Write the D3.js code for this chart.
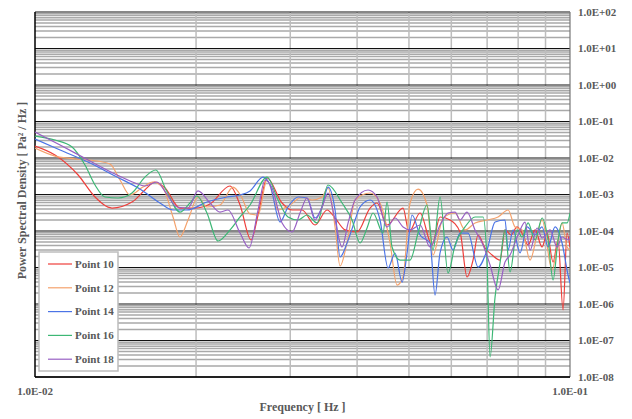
<!DOCTYPE html>
<html>
<head>
<meta charset="utf-8">
<script src="https://cdn.jsdelivr.net/npm/d3@7"></script>
<style>
  body { margin: 0; background: #fff; }
  text { font-family: "Liberation Serif", "Times New Roman", serif; font-weight: bold; fill: #595959; }
</style>
</head>
<body>
<div id="chart"></div>
<script>
// series data: [frequency Hz, PSD Pa^2/Hz]
var point10 = [[0.0100,2.13e-2],[0.0109,1.21e-2],[0.01204,3.42e-3],[0.01295,8.53e-4],[0.01393,4.26e-4],[0.01518,6.2e-4],[0.01605,1.33e-3],[0.01676,2.2e-3],[0.0175,1.51e-3],[0.01866,4.26e-4],[0.01991,4.26e-4],[0.02124,5.49e-4],[0.02315,1.71e-3],[0.02417,5.15e-4],[0.02534,5.66e-5],[0.02612,2.74e-4],[0.02715,2.83e-3],[0.02896,5.85e-4],[0.03023,3.76e-4],[0.03156,3.76e-4],[0.03338,1.46e-4],[0.03515,3.76e-4],[0.03638,2.27e-4],[0.03798,1.07e-4],[0.03999,9.4e-5],[0.04229,4.26e-4],[0.04359,5.85e-4],[0.0455,1.46e-4],[0.04875,4.26e-4],[0.0500,9.4e-5],[0.05245,3.11e-4],[0.05522,4.13e-5],[0.05716,2.42e-4],[0.05967,2.0e-4],[0.0623,9.4e-5],[0.0642,5.49e-6],[0.06588,1.6e-5],[0.06732,7.76e-5],[0.06938,3.42e-5],[0.0715,2.2e-5],[0.074,1.6e-5],[0.07561,1.07e-4],[0.0776,7.76e-5],[0.07962,1.29e-4],[0.0817,7.76e-5],[0.08349,4.13e-5],[0.08604,1.07e-4],[0.08867,3.64e-5],[0.0906,8.8e-5],[0.09297,1.41e-5],[0.09499,5.66e-5],[0.09706,6.84e-7],[0.09873,8.8e-5],[0.1,3.64e-5]];

var point12 = [[0.0100,1.88e-2],[0.0109,1.13e-2],[0.01188,9.4e-3],[0.01306,8.26e-3],[0.01381,6.84e-3],[0.01442,2.5e-3],[0.01505,9.68e-4],[0.01591,1.6e-3],[0.01661,2.2e-3],[0.01735,1.51e-3],[0.01811,2.42e-4],[0.01866,6.84e-5],[0.01932,2.0e-4],[0.02017,8.53e-4],[0.02096,4.54e-4],[0.02217,5.15e-4],[0.02345,1.6e-3],[0.02427,9.09e-4],[0.02523,2.92e-4],[0.02612,2.74e-4],[0.02715,2.5e-3],[0.02847,3.76e-4],[0.02997,5.15e-4],[0.03156,8.53e-4],[0.03295,7.06e-4],[0.0344,8.53e-4],[0.0353,1.51e-3],[0.03638,1.29e-4],[0.03717,1.1e-5],[0.03848,6.84e-5],[0.03965,7.06e-4],[0.04229,1.1e-3],[0.04415,5.85e-4],[0.04609,4.69e-5],[0.0475,3.31e-6],[0.04875,5.49e-6],[0.05024,5.85e-4],[0.052,1.41e-3],[0.05405,5.15e-4],[0.05546,2.2e-5],[0.0579,2.27e-4],[0.06097,3.11e-4],[0.06365,1.07e-4],[0.06645,1.66e-4],[0.06998,2.0e-4],[0.07337,2.42e-4],[0.0766,3.76e-4],[0.07894,1.29e-4],[0.08136,1.07e-4],[0.08421,1.6e-5],[0.08678,7.76e-5],[0.08867,2.0e-4],[0.09257,8.53e-6],[0.09459,3.64e-5],[0.09664,1.66e-4],[0.09873,3.64e-5],[0.1,3.0e-5]];

var point14 = [[0.0100,3.31e-2],[0.01114,1.66e-2],[0.01267,7.3e-3],[0.01411,3.21e-3],[0.01571,1.41e-3],[0.01712,5.85e-4],[0.01811,3.76e-4],[0.01923,3.76e-4],[0.02096,6.23e-4],[0.02285,8.53e-4],[0.02417,9.68e-4],[0.02523,1.25e-3],[0.02668,3.0e-3],[0.0275,1.82e-3],[0.02871,1.76e-4],[0.02971,4.54e-4],[0.03102,8.53e-4],[0.03225,8.01e-4],[0.03338,2.27e-4],[0.0344,4.54e-4],[0.0353,1.6e-3],[0.03638,3.76e-4],[0.03717,1.94e-5],[0.03831,4.69e-5],[0.03965,2.0e-4],[0.04051,4.54e-4],[0.04229,7.06e-4],[0.04415,2.0e-4],[0.0457,9.68e-6],[0.0471,2.5e-5],[0.04854,4.0e-6],[0.0496,2.5e-5],[0.05068,2.74e-4],[0.05245,7.76e-5],[0.05475,4.69e-5],[0.05594,1.76e-6],[0.05716,2.5e-5],[0.0589,6.84e-5],[0.06045,3.0e-5],[0.0623,8.8e-5],[0.06448,8.8e-5],[0.06732,1.03e-5],[0.06998,3.0e-5],[0.07243,1.76e-4],[0.07561,2.0e-4],[0.0766,3.0e-5],[0.07827,1.07e-4],[0.08066,2.5e-5],[0.08313,1.29e-4],[0.08604,7.76e-5],[0.08867,1.29e-4],[0.09099,3.64e-5],[0.09377,1.29e-4],[0.09664,4.69e-5],[0.09915,6.23e-6],[0.1,3.76e-6]];

var point16 = [[0.0100,4.0e-2],[0.0109,3.11e-2],[0.01173,2.0e-2],[0.0124,6.43e-3],[0.01295,1.82e-3],[0.01352,8.53e-4],[0.0143,8.01e-4],[0.01518,1.1e-3],[0.01605,3.0e-3],[0.01683,4.69e-3],[0.01758,1.33e-3],[0.01866,3.31e-4],[0.01948,5.85e-4],[0.02008,9.09e-4],[0.02096,3.11e-4],[0.02198,5.32e-5],[0.02315,1.07e-4],[0.02417,2.42e-4],[0.02523,5.15e-4],[0.02715,3.0e-3],[0.02847,7.06e-4],[0.02971,2.42e-4],[0.03102,2.0e-4],[0.03225,2.74e-4],[0.03367,1.66e-4],[0.0353,1.82e-3],[0.03749,5.85e-4],[0.03914,2.0e-4],[0.04051,4.69e-5],[0.04175,1.21e-4],[0.04284,3.11e-4],[0.04472,8.8e-5],[0.0455,6.23e-4],[0.04649,3.64e-5],[0.04812,1.6e-5],[0.05024,1.6e-5],[0.052,8.8e-5],[0.05405,5.15e-4],[0.05546,3.0e-5],[0.05716,8.53e-4],[0.05916,7.06e-6],[0.06097,4.13e-5],[0.06365,1.29e-4],[0.06645,2.42e-4],[0.06879,2.42e-4],[0.06998,1.33e-5],[0.07089,3.53e-8],[0.07243,1.56e-6],[0.074,1.33e-5],[0.07561,1.07e-4],[0.07726,7.52e-6],[0.07962,1.07e-4],[0.08136,6.84e-5],[0.08349,1.66e-4],[0.08604,5.66e-5],[0.08867,2.27e-4],[0.09099,5.66e-5],[0.09297,4.54e-6],[0.09499,5.66e-5],[0.09664,1.66e-4],[0.09873,1.66e-4],[0.1,3.11e-4]];

var point18 = [[0.0100,5.15e-2],[0.01114,2.27e-2],[0.01267,8.26e-3],[0.01411,3.64e-3],[0.01538,2.07e-3],[0.01605,1.71e-3],[0.0169,2.2e-3],[0.01758,1.1e-3],[0.01842,4.54e-4],[0.01932,4.26e-4],[0.02017,1.25e-3],[0.02124,5.85e-4],[0.02217,3.31e-4],[0.02295,3.76e-4],[0.02417,8.8e-5],[0.02512,3.42e-5],[0.02612,3.76e-4],[0.02691,2.5e-3],[0.02774,1.51e-3],[0.02896,1.66e-4],[0.03023,9.4e-5],[0.03129,3.11e-4],[0.03225,8.01e-4],[0.03338,2.0e-4],[0.0344,4.54e-4],[0.0353,1.1e-3],[0.03638,2.0e-4],[0.03749,3.64e-5],[0.03848,1.66e-4],[0.03965,7.06e-4],[0.04193,1.33e-3],[0.04359,8.53e-4],[0.0455,1.29e-4],[0.0471,2.27e-4],[0.04875,1.29e-4],[0.05024,1.07e-4],[0.05245,1.46e-4],[0.05475,3.64e-5],[0.05716,1.46e-4],[0.05916,3.11e-4],[0.06097,3.31e-4],[0.0623,2.0e-4],[0.0642,3.31e-4],[0.06645,1.07e-4],[0.06879,4.13e-5],[0.07089,1.17e-5],[0.07337,2.42e-6],[0.07561,1.41e-5],[0.07726,2.2e-5],[0.07997,7.76e-5],[0.08241,1.76e-4],[0.08421,3.0e-5],[0.08678,1.21e-4],[0.08867,6.43e-5],[0.09177,1.07e-4],[0.09459,3.64e-5],[0.09664,6.84e-5],[0.09915,5.66e-5],[0.1,6.84e-5]];

var seriesNames = ["Point 10", "Point 12", "Point 14", "Point 16", "Point 18"];
var seriesColors = ["#ee3f3b", "#f4a26c", "#4b74e6", "#3db775", "#9860c4"];
var yTickLabels = ["1.0E+02","1.0E+01","1.0E+00","1.0E-01","1.0E-02","1.0E-03","1.0E-04","1.0E-05","1.0E-06","1.0E-07","1.0E-08"];
var xTickLabels = ["1.0E-02","1.0E-01"];

var allSeries = [point10, point12, point14, point16, point18];

// set the dimensions and margins of the graph
var margin = {top: 12, right: 62, bottom: 42, left: 35},
    width = 632 - margin.left - margin.right,
    height = 419 - margin.top - margin.bottom;

var svg = d3.select("#chart")
  .append("svg")
    .attr("width", 632)
    .attr("height", 419)
  .append("g")
    .attr("transform", "translate(" + margin.left + "," + margin.top + ")");

var x = d3.scaleLog().domain([0.01, 0.1]).range([0, width]);
var y = d3.scaleLog().domain([1e-8, 1e2]).range([height, 0]);

// minor horizontal grid
var minorY = [];
for (var e = -8; e < 2; e++) {
  for (var k = 2; k <= 9; k++) minorY.push(k * Math.pow(10, e));
}
svg.append("g")
  .selectAll("line")
  .data(minorY)
  .enter()
  .append("line")
    .attr("x1", 0).attr("x2", width)
    .attr("y1", function(d) { return y(d); })
    .attr("y2", function(d) { return y(d); })
    .style("stroke", "#a9a9a9")
    .style("stroke-width", 1.5);

// minor vertical grid
var minorX = d3.range(2, 10).map(function(k) { return k * 0.01; });
svg.append("g")
  .selectAll("line")
  .data(minorX)
  .enter()
  .append("line")
    .attr("x1", function(d) { return x(d); })
    .attr("x2", function(d) { return x(d); })
    .attr("y1", 0).attr("y2", height)
    .style("stroke", "#bdbdbd")
    .style("stroke-width", 1.5);

// major horizontal lines
var majorY = d3.range(-8, 3).map(function(e) { return Math.pow(10, e); });
svg.append("g")
  .selectAll("line")
  .data(majorY)
  .enter()
  .append("line")
    .attr("x1", 0).attr("x2", width)
    .attr("y1", function(d) { return y(d); })
    .attr("y2", function(d) { return y(d); })
    .style("stroke", "#111")
    .style("stroke-width", 1.2);

// frame
svg.append("line").attr("x1", width).attr("x2", width).attr("y1", 0).attr("y2", height)
  .style("stroke", "#777").style("stroke-width", 1.2);
svg.append("line").attr("x1", 0).attr("x2", 0).attr("y1", 0).attr("y2", height)
  .style("stroke", "#000").style("stroke-width", 1.5);
svg.append("line").attr("x1", 0).attr("x2", width).attr("y1", height).attr("y2", height)
  .style("stroke", "#000").style("stroke-width", 1.5);

// lines
svg.append("clipPath").attr("id", "clip")
  .append("rect").attr("width", width).attr("height", height);

var line = d3.line()
  .x(function(d) { return x(d[0]); })
  .y(function(d) { return y(d[1]); })
  .curve(d3.curveMonotoneX);

svg.append("g")
  .attr("clip-path", "url(#clip)")
  .selectAll("path")
  .data(allSeries)
  .enter()
  .append("path")
    .attr("d", line)
    .style("fill", "none")
    .style("stroke", function(d, i) { return seriesColors[i]; })
    .style("stroke-width", 1.2);

// Y tick labels on the right
svg.append("g")
  .selectAll("text")
  .data(majorY.slice().reverse())
  .enter()
  .append("text")
    .attr("x", width + 8)
    .attr("y", function(d) { return y(d); })
    .attr("dy", "0.35em")
    .style("font-size", "11px")
    .text(function(d, i) { return yTickLabels[i]; });

// X tick labels
svg.append("g")
  .selectAll("text")
  .data([0.01, 0.1])
  .enter()
  .append("text")
    .attr("x", function(d) { return x(d); })
    .attr("y", height + 18)
    .attr("text-anchor", "middle")
    .style("font-size", "11px")
    .text(function(d, i) { return xTickLabels[i]; });

// axis titles
svg.append("text")
  .attr("x", width / 2)
  .attr("y", height + 34)
  .attr("text-anchor", "middle")
  .style("font-size", "12px")
  .text("Frequency [ Hz ]");

svg.append("text")
  .attr("transform", "translate(-9," + (height / 2 - 4) + ") rotate(-90)")
  .attr("text-anchor", "middle")
  .style("font-size", "12px")
  .text("Power Spectral Density [ Pa² / Hz ]");

// legend
var legend = svg.append("g").attr("transform", "translate(4,240)");
legend.append("rect")
  .attr("width", 79).attr("height", 119)
  .style("fill", "#fff")
  .style("stroke", "#bdbdbd")
  .style("stroke-width", 1.5);
var item = legend.selectAll("g.item")
  .data(seriesNames)
  .enter()
  .append("g")
    .attr("class", "item")
    .attr("transform", function(d, i) { return "translate(0," + (12 + i * 23.8) + ")"; });
item.append("line")
  .attr("x1", 9).attr("x2", 33)
  .style("stroke", function(d, i) { return seriesColors[i]; })
  .style("stroke-width", 1.2);
item.append("text")
  .attr("x", 36)
  .attr("dy", "0.35em")
  .style("font-size", "11px")
  .text(function(d) { return d; });
</script>
</body>
</html>
